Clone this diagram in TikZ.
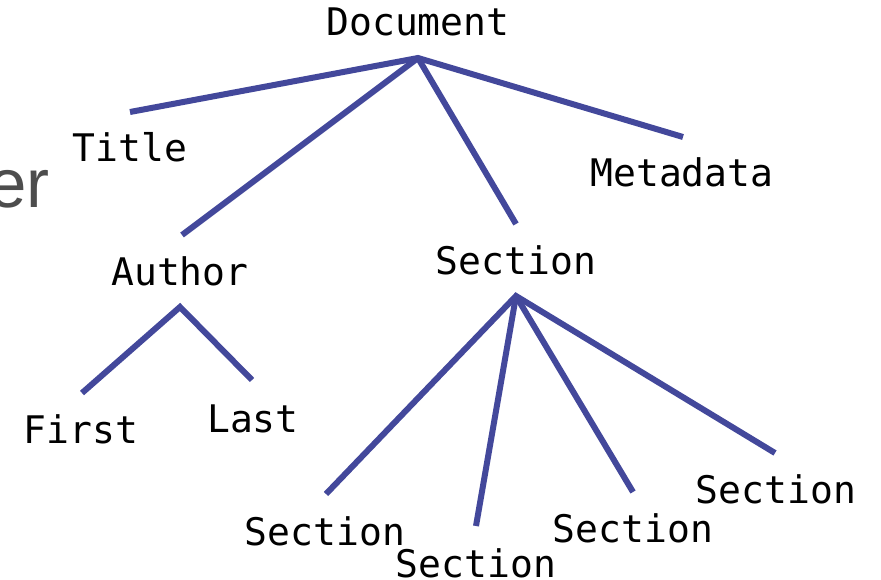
\documentclass[tikz,border=0pt]{standalone}
\usepackage{fontspec}
\setmainfont{Liberation Sans}
\setmonofont{DejaVu Sans Mono}
\definecolor{edgeblue}{RGB}{67,72,155}
\definecolor{slidegray}{RGB}{77,77,77}
\begin{document}
\begin{tikzpicture}[x=1pt,y=-1pt,
  label/.style={anchor=base,inner sep=0pt,font=\ttfamily\fontsize{38}{44}\selectfont},
  edge/.style={draw=edgeblue,line width=6pt,line cap=butt,line join=miter}]
\useasboundingbox (0,0) rectangle (881,580);

% cropped slide title fragment on the left
\node[anchor=base west,inner sep=0pt,text=slidegray,font=\fontsize{69}{80}\selectfont] (frag) at (-12,208) {er};

% tree labels
\node[label] (doc)   at (418,36)  {Document};
\node[label] (title) at (130,162) {Title};
\node[label] (meta)  at (682,187) {Metadata};
\node[label] (auth)  at (180,285) {Author};
\node[label] (sec)   at (516,275) {Section};
\node[label] (first) at (81,443)  {First};
\node[label] (last)  at (253,432) {Last};
\node[label] (secA)  at (325,545) {Section};
\node[label] (secB)  at (476,577) {Section};
\node[label] (secC)  at (633,542) {Section};
\node[label] (secD)  at (776,503) {Section};

% branch points and leaf ends
\coordinate (doc-b)   at (418,58);
\coordinate (title-t) at (130,112);
\coordinate (auth-t)  at (182,235);
\coordinate (sec-t)   at (516,224);
\coordinate (meta-t)  at (683,137);
\coordinate (auth-b)  at (180,307);
\coordinate (first-t) at (82,393);
\coordinate (last-t)  at (252,380);
\coordinate (sec-b)   at (516,296);
\coordinate (secA-t)  at (326,494);
\coordinate (secB-t)  at (476,526);
\coordinate (secC-t)  at (633,492);
\coordinate (secD-t)  at (775,453);

% connectors
\draw[edge] (title-t) -- (doc-b) -- (meta-t);
\draw[edge] (doc-b) -- (auth-t);
\draw[edge] (doc-b) -- (sec-t);
\draw[edge] (first-t) -- (auth-b) -- (last-t);
\draw[edge] (secA-t) -- (sec-b) -- (secD-t);
\draw[edge] (sec-b) -- (secB-t);
\draw[edge] (sec-b) -- (secC-t);
\end{tikzpicture}
\end{document}
